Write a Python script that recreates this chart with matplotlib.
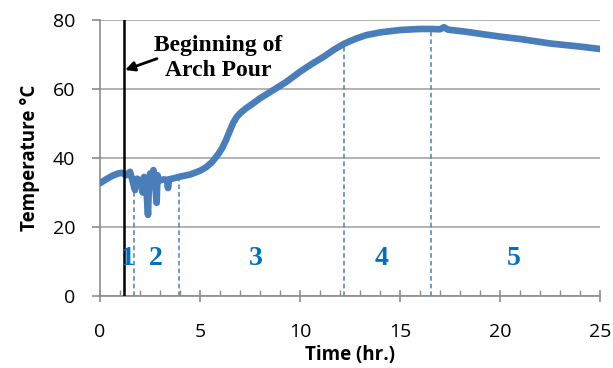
import numpy as np
import matplotlib
matplotlib.use("Agg")
import matplotlib.pyplot as plt
from matplotlib.ticker import MultipleLocator

# ---- data ----
time_hr = [0.0, 0.3, 0.6, 0.9, 1.1, 1.3, 1.5, 1.6, 1.75, 1.85, 2.0, 2.1, 2.13,
           2.2, 2.3, 2.4, 2.45, 2.5, 2.6, 2.67, 2.75, 2.83, 2.88, 2.92, 3.0,
           3.2, 3.35, 3.4, 3.45, 3.6, 4.0, 4.5, 5.0, 5.3, 5.6, 5.9, 6.1,
           6.3, 6.5, 6.67, 6.85, 7.05, 7.3, 7.6, 8.0, 8.67, 9.3, 10.0, 10.6,
           11.2, 11.7, 12.2, 12.8, 13.3, 14.0, 15.0, 16.0, 16.6, 17.0, 17.2,
           17.4, 18.3, 19.0, 20.0, 21.0, 22.5, 24.0, 25.0]
temp_c = [32.7, 33.8, 34.8, 35.5, 35.7, 35.0, 36.0, 34.0, 30.7, 34.0, 33.5,
          32.0, 30.0, 34.5, 33.0, 23.5, 33.0, 35.5, 34.0, 36.5, 33.0, 27.0,
          35.0, 33.5, 33.5, 33.8, 33.6, 31.3, 33.8, 34.0, 34.6, 35.2, 36.3,
          37.3, 38.8, 41.0, 42.8, 45.2, 48.0, 50.3, 52.0, 53.2, 54.4, 55.6,
          57.3, 59.7, 62.0, 65.0, 67.3, 69.4, 71.4, 73.1, 74.6, 75.6, 76.4,
          77.1, 77.4, 77.4, 77.3, 77.9, 77.2, 76.6, 76.0, 75.2, 74.5, 73.2,
          72.3, 71.6]

pour_start = 1.2
stage_bounds = [1.7, 3.95, 12.2, 16.55]
stage_labels = ["1", "2", "3", "4", "5"]
stage_label_x = [1.4, 2.8, 7.8, 14.1, 20.7]
stage_label_y = 11

x_ticks = [0, 5, 10, 15, 20, 25]
y_ticks = [0, 20, 40, 60, 80]

# ---- figure ----
fig = plt.figure(figsize=(6.13, 3.68), dpi=100)
ax = fig.add_axes([100/613, 1-296/368, 500/613, 276/368])

grey = "#8c8c8c"
blue = "#4a7ebb"
label_blue = "#0070c0"

ax.set_xlim(0, 25)
ax.set_ylim(0, 80)
ax.set_xticks(x_ticks)
ax.set_yticks(y_ticks)
ax.xaxis.set_minor_locator(MultipleLocator(1))
ax.grid(axis="y", color="#a6a6a6", lw=1.2, zorder=0)

for s in ["top", "right"]:
    ax.spines[s].set_visible(False)
for s in ["left", "bottom"]:
    ax.spines[s].set_color(grey)
    ax.spines[s].set_linewidth(1.2)

ax.tick_params(axis="y", which="major", direction="out", length=5.8, width=1.2,
               color=grey, pad=12)
ax.tick_params(axis="x", which="major", direction="inout", length=8.6, width=1.2,
               color=grey, pad=15)
ax.tick_params(axis="x", which="minor", direction="in", length=4, width=1.0,
               color=grey)
for lab in ax.get_xticklabels() + ax.get_yticklabels():
    lab.set_fontfamily("Open Sans")
    lab.set_fontsize(14)

# curve
ax.plot(time_hr, temp_c, color=blue, lw=4.8, solid_capstyle="round",
        solid_joinstyle="round", zorder=3)

# stage boundaries
for xb in stage_bounds:
    yb = np.interp(xb, time_hr, temp_c)
    ax.plot([xb, xb], [0, yb], color=blue, lw=1.1, ls=(0, (3, 2)), zorder=2)

# pour line
ax.axvline(pour_start, color="black", lw=1.8, zorder=4)

for lab, lx in zip(stage_labels, stage_label_x):
    ax.text(lx, stage_label_y, lab, color=label_blue, fontsize=20,
            fontweight="bold", family="Liberation Serif", ha="center",
            va="center", zorder=5)

ax.text(5.9, 69.0, "Beginning of\nArch Pour", ha="center", va="center",
        fontsize=17, fontweight="bold", family="Liberation Serif",
        linespacing=1.22, zorder=6)
ax.annotate("", xy=(pour_start + 0.05, 65.5), xytext=(2.85, 68.8),
            arrowprops=dict(arrowstyle="-|>", color="black", lw=2,
                            mutation_scale=14, shrinkA=0, shrinkB=0),
            zorder=6)

ax.set_xlabel("Time (hr.)", fontsize=13.5, fontweight="bold",
              family="Open Sans", labelpad=3)
ax.set_ylabel("Temperature °C", fontsize=13.5, fontweight="bold",
              family="Open Sans", labelpad=9)

fig.savefig("out.png", dpi=100)
